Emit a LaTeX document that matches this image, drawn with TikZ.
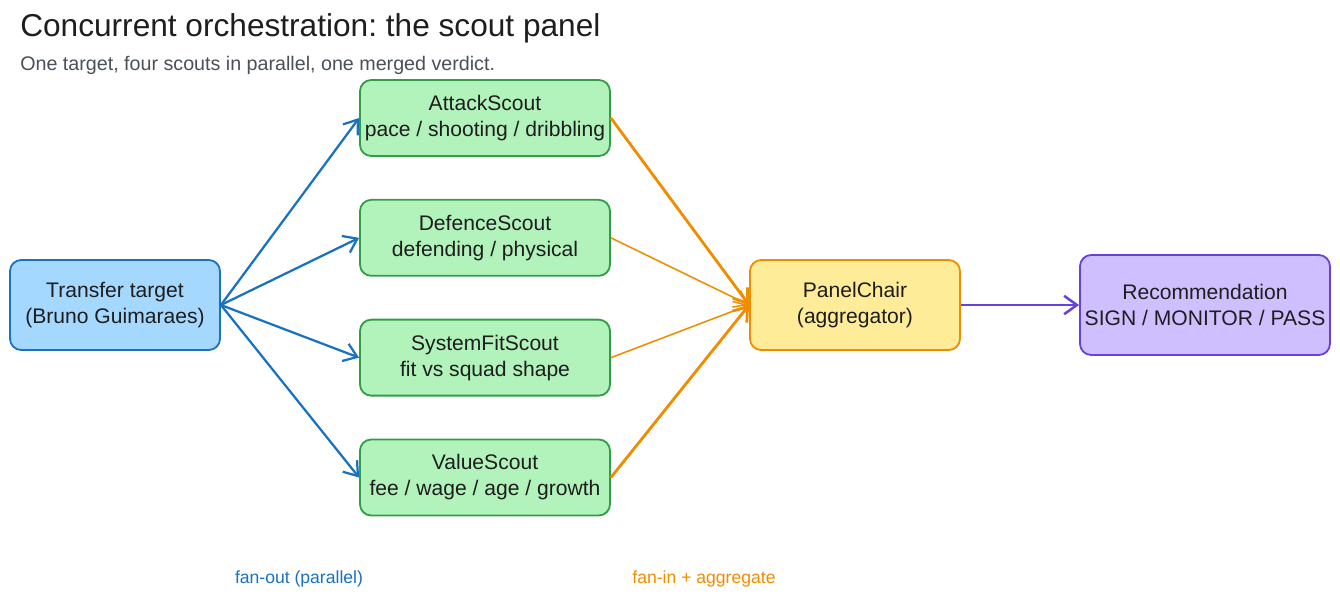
\documentclass[tikz,border=0pt]{standalone}
\usepackage{fontspec}
\setmainfont{Liberation Sans}
\usetikzlibrary{positioning,arrows.meta}
\frenchspacing
\definecolor{InkDark}{RGB}{30,30,30}
\definecolor{InkGrey}{RGB}{73,80,87}
\definecolor{TargetFill}{RGB}{165,216,255}
\definecolor{TargetLine}{RGB}{25,113,194}
\definecolor{ScoutFill}{RGB}{178,242,187}
\definecolor{ScoutLine}{RGB}{47,158,68}
\definecolor{ChairFill}{RGB}{255,236,153}
\definecolor{ChairLine}{RGB}{240,140,0}
\definecolor{VerdictFill}{RGB}{208,191,255}
\definecolor{VerdictLine}{RGB}{103,65,217}
\tikzset{
  fanout/.style={-{Straight Barb[length=3.2mm,width=4.6mm]},line width=1.6pt,draw=TargetLine},
  fanin/.style={-{Straight Barb[length=3.2mm,width=4.6mm]},line width=1.1pt,draw=ChairLine},
  fanin thick/.style={fanin,line width=2pt},
  verdictflow/.style={-{Straight Barb[length=3.2mm,width=4.6mm]},line width=1.8pt,draw=VerdictLine},
  basebox/.style={rounded corners=8pt,line width=1.3pt,align=center,text=InkDark,
    font=\fontsize{15}{18.5}\selectfont,inner sep=0pt},
  targetbox/.style={basebox,draw=TargetLine,fill=TargetFill,
    minimum width=5.25cm,minimum height=2.25cm},
  scoutbox/.style={basebox,draw=ScoutLine,fill=ScoutFill,
    minimum width=6.25cm,minimum height=1.9cm},
  chairbox/.style={basebox,draw=ChairLine,fill=ChairFill,
    minimum width=5.25cm,minimum height=2.25cm},
  verdictbox/.style={basebox,draw=VerdictLine,fill=VerdictFill,
    minimum width=6.25cm,minimum height=2.5cm},
  note/.style={font=\fontsize{12.5}{15}\selectfont,inner sep=0pt}
}

\begin{document}
\begin{tikzpicture}[node distance=1.05cm]
  \useasboundingbox (0,0) rectangle (33.5,-15);
  % heading
  \node[anchor=west,inner sep=0pt,text=InkDark,font=\fontsize{22.5}{26}\selectfont] (title) at (0.5,-0.7)
    {Concurrent orchestration: the scout panel};
  \node[anchor=west,inner sep=0pt,text=InkGrey,font=\fontsize{14}{17}\selectfont] (subtitle) at (0.5,-1.625)
    {One target, four scouts in parallel, one merged verdict.};
  % boxes
  \node[targetbox] (target) at (2.875,-7.625) {Transfer target\\(Bruno Guimaraes)};
  \node[scoutbox] (attack) at (12.125,-2.95) {AttackScout\\pace / shooting / dribbling};
  \node[scoutbox,below=of attack] (defence) {DefenceScout\\defending / physical};
  \node[scoutbox,below=of defence] (sysfit) {SystemFitScout\\fit vs squad shape};
  \node[scoutbox,below=of sysfit] (value) {ValueScout\\fee / wage / age / growth};
  \node[chairbox] (chair) at (21.375,-7.625) {PanelChair\\(aggregator)};
  \node[verdictbox] (verdict) at (30.125,-7.625) {Recommendation\\SIGN / MONITOR / PASS};
  % fan-out
  \draw[fanout] (target.east) -- (attack.west);
  \draw[fanout] (target.east) -- (defence.west);
  \draw[fanout] (target.east) -- (sysfit.west);
  \draw[fanout] (target.east) -- (value.west);
  % fan-in
  \draw[fanin thick] (attack.east) -- (chair.west);
  \draw[fanin] (defence.east) -- (chair.west);
  \draw[fanin] (sysfit.east) -- (chair.west);
  \draw[fanin thick] (value.east) -- (chair.west);
  \draw[verdictflow] (chair.east) -- (verdict.west);
  % captions
  \node[note,text=TargetLine] (outnote) at (7.475,-14.475) {fan-out (parallel)};
  \node[note,text=ChairLine] (innote) at (17.6,-14.475) {fan-in + aggregate};
\end{tikzpicture}
\end{document}
